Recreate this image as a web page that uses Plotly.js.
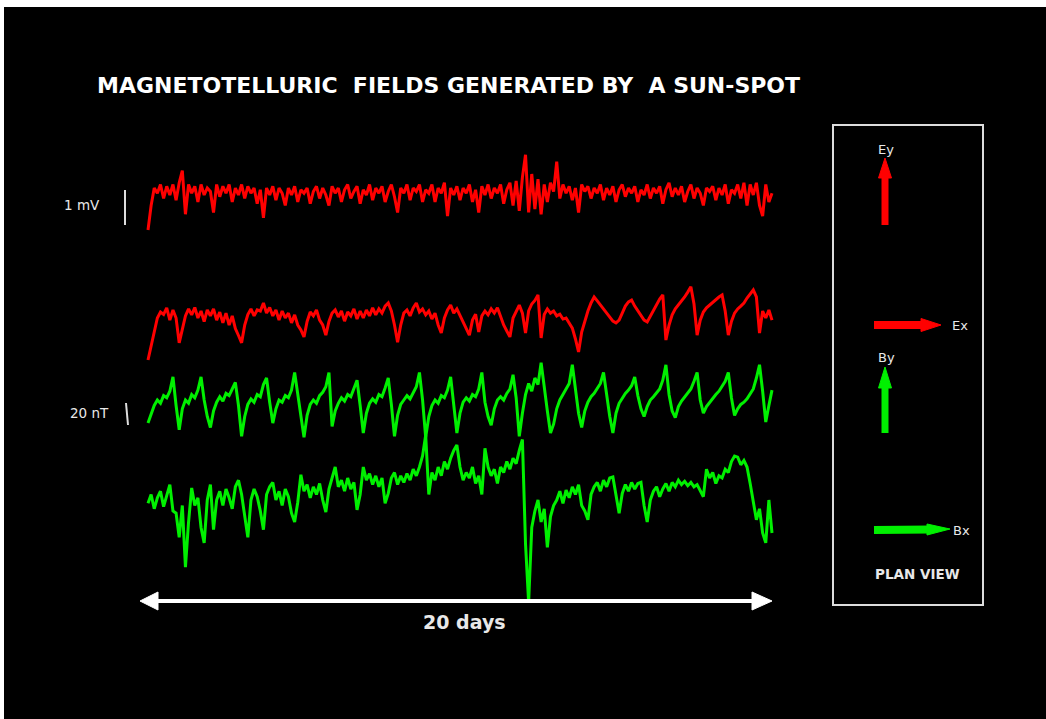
<!DOCTYPE html>
<html>
<head>
<meta charset="utf-8">
<script src="https://cdn.plot.ly/plotly-3.0.1.min.js"></script>
<style>html,body{margin:0;padding:0;background:#fff;}#chart{width:1046px;height:719px;}</style>
</head>
<body>
<div id="chart"></div>
<script>
// Time step between samples (days); the record covers 20 days
const STEP_DAYS = 0.1;
const SPAN_DAYS = 20;

// Ey electric field (mV, relative to mean level)
const Ey = [
 -1.0,-0.3,0.2,0.05,0.3,-0.1,0.25,0.0,0.3,-0.15,
 0.35,0.7,-0.55,0.3,0.05,0.25,-0.2,0.3,0.0,0.2,
 0.1,-0.5,0.3,-0.05,0.25,0.05,0.3,-0.2,0.2,0.0,
 0.3,-0.1,0.25,0.05,0.2,-0.25,0.15,-0.65,0.2,0.0,
 0.25,-0.15,0.2,0.05,-0.3,0.2,0.0,0.25,-0.2,0.15,
 0.05,0.2,-0.25,0.1,0.25,-0.1,0.2,0.0,-0.3,0.25,
 0.05,0.2,-0.2,0.15,0.3,-0.1,0.1,0.25,-0.25,0.15,
 0.0,0.3,-0.15,0.2,0.05,0.25,-0.2,0.1,0.3,-0.05,
 -0.5,0.2,0.05,0.3,-0.15,0.2,0.1,0.3,-0.2,0.15,
 0.05,0.3,-0.2,0.2,0.05,0.35,-0.6,0.2,0.0,0.25,
 -0.15,0.2,0.05,0.3,-0.2,0.15,-0.5,0.25,0.0,0.3,
 -0.1,0.2,0.05,0.3,-0.25,0.15,0.35,-0.3,0.4,-0.45,
 0.5,1.15,-0.5,0.6,-0.4,0.45,-0.55,0.3,-0.2,0.35,
 0.1,0.95,-0.1,0.3,0.05,0.25,-0.15,0.2,-0.5,0.3,
 0.1,0.25,-0.1,0.2,0.05,0.3,-0.15,0.2,0.0,0.25,
 -0.2,0.15,0.3,-0.05,0.2,0.05,0.25,-0.2,0.15,0.0,
 0.3,-0.1,0.2,0.05,0.25,-0.25,0.15,0.35,-0.05,0.2,
 0.0,0.25,-0.2,0.1,0.3,-0.1,0.2,0.05,-0.3,0.2,
 0.1,0.25,-0.15,0.2,0.0,0.3,-0.25,0.15,0.05,0.3,
 -0.1,0.35,-0.3,0.3,0.0,0.35,-0.3,-0.6,0.3,-0.2,
 0.05
];

// Ex electric field (mV)
const Ex = [
 -1.2,-0.77,-0.34,0.0,0.17,0.1,0.29,-0.06,0.23,0.0,
 -0.71,-0.3,0.06,0.26,0.09,0.3,0.0,0.2,-0.1,0.23,
 0.06,0.26,-0.06,0.17,-0.14,0.14,-0.2,0.06,-0.3,-0.5,
 -0.71,-0.2,0.1,0.26,0.06,0.23,0.2,0.43,0.14,0.3,
 0.06,0.23,-0.06,0.2,0.0,0.14,-0.14,0.09,-0.2,-0.34,
 -0.54,-0.1,0.17,0.06,0.23,-0.06,-0.2,-0.49,-0.1,0.14,
 0.23,0.03,0.2,-0.09,0.17,0.06,0.26,-0.03,0.2,0.0,
 0.23,0.06,0.29,0.09,0.26,0.14,0.34,0.43,0.2,-0.2,
 -0.69,-0.2,0.14,0.23,0.06,0.29,0.43,0.17,0.26,0.09,
 0.2,-0.03,0.14,-0.2,-0.43,0.0,0.23,0.37,0.14,0.26,
 0.06,-0.14,-0.34,-0.49,-0.06,0.11,-0.4,0.06,0.2,0.09,
 0.26,0.14,0.29,0.03,-0.2,-0.37,-0.54,0.0,0.2,0.37,
 0.14,-0.43,0.2,0.4,0.5,0.66,-0.57,0.1,0.26,0.14,
 0.2,0.06,0.11,-0.03,0.0,-0.14,-0.29,-0.6,-0.97,-0.4,
 -0.06,0.2,0.43,0.6,0.49,0.37,0.26,0.14,0.0,-0.09,
 -0.14,-0.06,0.14,0.34,0.46,0.51,0.34,0.2,0.06,-0.06,
 -0.11,0.06,0.23,0.4,0.54,0.66,-0.63,-0.2,0.09,0.26,
 0.37,0.49,0.6,0.74,0.89,0.4,-0.49,-0.06,0.17,0.29,
 0.37,0.46,0.54,0.6,0.66,0.2,-0.49,-0.1,0.14,0.26,
 0.34,0.43,0.57,0.69,0.8,0.6,-0.43,0.2,0.0,0.23,
 -0.06
];

// By magnetic field (nT)
const By = [
 -21,-12,-5,0,-3,4,2,8,21,-5,
 -27,-8,0,-3,5,2,9,21,0,-15,
 -25,-10,-2,3,-1,6,4,10,16,-5,
 -33,-15,-4,1,-2,5,3,14,20,-2,
 -21,-8,0,-2,4,2,9,25,5,-18,
 -34,-14,-4,0,-3,4,7,12,25,-24,
 -10,-3,2,-1,5,3,10,18,-5,-30,
 -12,-3,1,-2,5,3,11,20,-4,-33,
 -14,-4,0,4,1,7,12,25,0,-34,
 -15,-5,0,-3,4,2,9,21,-3,-30,
 -12,-2,2,-1,5,3,10,25,-2,-15,
 -23,-8,0,3,0,6,10,23,2,-33,
 -12,5,15,8,20,14,34,10,-10,-30,
 -22,-8,0,5,10,15,32,8,-12,-25,
 -10,-2,3,6,10,15,25,5,-15,-30,
 -12,-3,2,6,9,13,21,4,-8,-15,
 -6,0,3,7,10,18,32,5,-10,-16,
 -6,-1,3,6,10,17,25,0,-12,-6,
 -2,2,5,8,12,17,25,2,-14,-8,
 -4,-2,1,5,10,20,32,8,-20,-5,
 9
];

// Bx magnetic field (nT)
const Bx = [
 -3,5,-8,2,8,-6,4,14,-10,-12,
 -34,-5,-61,-20,11,-5,2,-25,-39,0,
 14,-27,0,8,-5,10,2,-8,12,18,
 5,-15,-34,0,10,3,-10,-27,5,12,
 16,0,8,-5,10,3,-12,-20,-2,23,
 8,14,2,12,5,15,0,-11,10,20,
 30,12,18,8,20,10,16,-9,5,30,
 18,24,14,22,12,20,-3,6,20,25,
 14,22,16,24,18,28,22,30,40,59,
 5,25,18,30,22,35,28,38,45,50,
 30,18,25,20,30,15,22,5,47,30,
 22,28,15,30,25,35,28,38,33,45,
 55,-40,-93,-25,-10,0,-20,-8,-43,-15,
 -5,0,8,-3,9,2,12,5,14,-5,
 -10,-18,5,12,16,8,18,12,20,21,
 5,-12,6,14,8,16,10,15,16,-5,
 -20,0,8,12,3,10,15,8,16,12,
 18,14,17,13,16,12,14,8,3,28,
 20,25,15,22,20,28,25,35,40,39,
 32,36,30,15,0,-18,-8,-30,-39,0,
 -30
];

// Scale bar values
const MV_BAR = 1;   // 1 mV
const NT_BAR = 20;  // 20 nT

// ---------- layout geometry (pixels) ----------
const W = 1046, H = 719, ML = 4, MT = 7;
const PW = W - ML, PH = H - MT;
const X0PX = 148, X20PX = 772;             // pixel of day 0 and day 20
const pxPerDay = (X20PX - X0PX) / SPAN_DAYS;
const xr = [-(X0PX - ML) / pxPerDay, (W - X0PX) / pxPerDay];
function yRange(basePx, pxPerUnit) { return [(basePx - H) / pxPerUnit, (basePx - MT) / pxPerUnit]; }
const MV_PX = 35, NT_PX = 1.1;
function px(x) { return (x - ML) / PW; }
function py(y) { return (H - y) / PH; }

function times(arr) { return arr.map((_, i) => i * STEP_DAYS); }

const RED = '#ff0000', GREEN = '#00f000';
const LW = 3;
const traces = [
  {x: times(Ey), y: Ey, yaxis: 'y',  type: 'scatter', mode: 'lines', line: {color: RED, width: LW}, name: 'Ey'},
  {x: times(Ex), y: Ex, yaxis: 'y2', type: 'scatter', mode: 'lines', line: {color: RED, width: LW}, name: 'Ex'},
  {x: times(By), y: By, yaxis: 'y3', type: 'scatter', mode: 'lines', line: {color: GREEN, width: LW}, name: 'By'},
  {x: times(Bx), y: Bx, yaxis: 'y4', type: 'scatter', mode: 'lines', line: {color: GREEN, width: LW}, name: 'Bx'}
];

const hidden = {visible: false, showgrid: false, zeroline: false, fixedrange: true};
const txt = '#e8e8e8';
function ann(text, x, y, size, bold, anchor) {
  return {text: bold ? '<b>' + text + '</b>' : text, xref: 'paper', yref: 'paper', x: px(x), y: py(y),
    xanchor: anchor || 'center', yanchor: 'middle', showarrow: false,
    font: {family: 'DejaVu Sans, sans-serif', size: size, color: txt}};
}
function tri(a, b, c, color) {
  return {type: 'path', xref: 'paper', yref: 'paper', fillcolor: color, line: {color: color, width: 1},
    path: 'M' + px(a[0]) + ',' + py(a[1]) + ' L' + px(b[0]) + ',' + py(b[1]) + ' L' + px(c[0]) + ',' + py(c[1]) + ' Z'};
}
function seg(x0, y0, x1, y1, color, w) {
  return {type: 'line', xref: 'paper', yref: 'paper', x0: px(x0), y0: py(y0), x1: px(x1), y1: py(y1), line: {color: color, width: w}};
}

const shapes = [
  // scale bars drawn in data units
  {type: 'line', xref: 'paper', yref: 'y', x0: px(125), x1: px(125), y0: -0.86, y1: -0.86 + MV_BAR, line: {color: '#dddddd', width: 2}},
  {type: 'line', xref: 'paper', yref: 'y3', x0: px(126), x1: px(128), y0: -2.7, y1: -2.7 - NT_BAR, line: {color: '#dddddd', width: 2}},
  // plan view box
  {type: 'rect', xref: 'paper', yref: 'paper', x0: px(833), x1: px(983), y0: py(125), y1: py(605), line: {color: '#dddddd', width: 2}},
  seg(885, 225, 885, 175, RED, 7), tri([878.5, 178], [891.5, 178], [885, 158], RED),
  seg(874, 325, 924, 325, RED, 8), tri([921, 318.5], [921, 331.5], [941, 325], RED),
  seg(885, 433, 885, 385, GREEN, 7), tri([878.5, 388], [891.5, 388], [885, 367], GREEN),
  seg(874, 530, 930, 529.5, GREEN, 8), tri([927, 524], [927, 535], [950, 529], GREEN),
  // 20-day double arrow
  seg(152, 601, 758, 601, '#ffffff', 4),
  tri([140, 601], [158, 592], [158, 610], '#ffffff'),
  tri([772, 601], [752, 592], [752, 610], '#ffffff')
];

const annotations = [
  ann('1 mV', 82, 205, 13.5),
  ann('20 nT', 89, 413, 13.5),
  ann('Ey', 886, 149, 13), ann('Ex', 960, 325, 13),
  ann('By', 886, 358, 13), ann('Bx', 961, 530, 13),
  ann('PLAN VIEW', 917, 574, 13.5, true),
  ann('20 days', 464, 622, 19, true)
];

const layout = {
  width: W, height: H,
  margin: {l: ML, r: 0, t: MT, b: 0, pad: 0},
  paper_bgcolor: '#ffffff', plot_bgcolor: '#000000',
  showlegend: false,
  title: {text: '<b>MAGNETOTELLURIC\u00a0\u00a0FIELDS GENERATED BY\u00a0\u00a0A SUN-SPOT</b>',
    x: 97 / W, xanchor: 'left', y: 1 - 85 / H, yanchor: 'middle', xref: 'container', yref: 'container',
    font: {family: 'DejaVu Sans, sans-serif', size: 22, color: '#ffffff'}},
  xaxis: Object.assign({range: xr}, hidden),
  yaxis: Object.assign({range: yRange(195, MV_PX)}, hidden),
  yaxis2: Object.assign({range: yRange(318, MV_PX), overlaying: 'y'}, hidden),
  yaxis3: Object.assign({range: yRange(400, NT_PX), overlaying: 'y'}, hidden),
  yaxis4: Object.assign({range: yRange(500, NT_PX), overlaying: 'y'}, hidden),
  shapes: shapes,
  annotations: annotations
};

Plotly.newPlot('chart', traces, layout, {staticPlot: true, displayModeBar: false});
</script>
</body>
</html>
